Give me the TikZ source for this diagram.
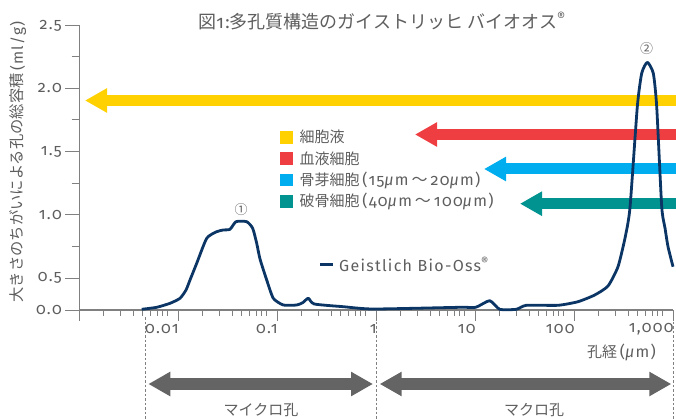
\documentclass[tikz,border=0pt]{standalone}
\usepackage{fontspec}
\setmainfont{Fira Sans}[Numbers=OldStyle, LetterSpace=8]
\newfontfamily\jpfont{Noto Sans CJK JP}
\usepackage{tikz}
\usetikzlibrary{arrows.meta}
\definecolor{txtgray}{HTML}{5E5E5E}
\definecolor{axisgray}{HTML}{808080}
\definecolor{spangray}{HTML}{646464}
\definecolor{navy}{HTML}{0B3565}
\definecolor{cellyellow}{HTML}{FFD100}
\definecolor{cellred}{HTML}{EF3E42}
\definecolor{cellblue}{HTML}{00AEEF}
\definecolor{cellteal}{HTML}{009390}
\tikzset{%
    lbl/.style={text=txtgray, inner sep=0pt}
}
\newcommand{\lat}[1]{{\fontsize{16}{16}\selectfont #1}}
\newcommand{\wave}{\hspace{3pt}{\jpfont ～}\hspace{3pt}}

\begin{document}
\begin{tikzpicture}[
        x=1pt, y=-1pt,
        axis/.style={draw=axisgray, line width=1.1pt},
        tck/.style={draw=axisgray, line width=1pt},
        band/.style={line width=11pt, -{Triangle[length=22pt,width=23pt]}},
        span/.style={draw=spangray, line width=11.5pt, {Triangle[length=22pt,width=23pt]}-{Triangle[length=22pt,width=23pt]}},
        guide/.style={draw=axisgray, line width=0.8pt, dash pattern=on 2.5pt off 2pt},
        curve/.style={draw=navy, line width=2.8pt, line join=round},
        swatch/.style={minimum width=13pt, minimum height=12.5pt, inner sep=0pt},
        tiny/.style={font=\fontsize{16}{16}\selectfont},
        small/.style={font=\fontsize{15}{15}\selectfont}
        ]
        \useasboundingbox (0,0) rectangle (676,419);

        % title and axis titles
        \node[lbl, font=\fontsize{18}{18}\selectfont] (title) at (382,21)
            {{\jpfont 図}1:{\jpfont 多孔質構造のガイストリッヒ バイオオス}\textsuperscript{®}};
        \node[lbl, rotate=90, font=\fontsize{15.3}{15.3}\selectfont] (ytitle) at (18,162)
            {{\jpfont 大きさのちがいによる孔の総容積}\,(ml/g)};
        \node[lbl, anchor=east, small] (xtitle) at (656,352)
            {{\jpfont 孔経}\lat{\,(\textit{μ}m)}};

        % colour bands
        \coordinate (ya) at (676,100.5);  \coordinate (yb) at (85,100.5);
        \coordinate (ra) at (676,134.5);  \coordinate (rb) at (415,134.5);
        \coordinate (ba) at (676,169);    \coordinate (bb) at (484,169);
        \coordinate (ta) at (676,203.7);  \coordinate (tb) at (520,203.7);
        \draw[band, draw=cellyellow] (ya) -- (yb);
        \draw[band, draw=cellred] (ra) -- (rb);
        \draw[band, draw=cellblue] (ba) -- (bb);
        \draw[band, draw=cellteal] (ta) -- (tb);

        % axes
        \coordinate (ytop) at (79.3,25.5);
        \coordinate (o) at (79.3,310);
        \coordinate (xend) at (673.3,310);
        \draw[axis] (ytop) -- (o) -- (xend);
        \foreach \v/\y [count=\i] in {0.0/310, 0.5/278.3, 1.0/215, 1.5/151.7, 2.0/88.4, 2.5/25.5} {
            \draw[tck] (65,\y) -- (79.3,\y);
            \node[lbl, anchor=east, tiny] (yl\i) at (62,\y) {\v};
        }
        \foreach \y in {57,120,183.3,246.7}
            \draw[tck] (71.7,\y) -- (79.3,\y);
        \foreach \d in {0,...,6}
            \draw[tck] ({79.3+99*\d},310) -- ++(0,10.5);
        \foreach \d in {0,...,5}
            \foreach \m in {2,...,9}
                \draw[tck] ({73.5+99*(\d+log10(\m))},310) -- ++(0,6);
        \foreach \d/\t [count=\i] in {1/0.01, 2/0.1, 3/1, 4/10, 5/100, 6/{1,000}}
            \node[lbl, anchor=east, tiny] (xl\i) at ({79.3+99*\d+0.5},329) {\t};

        % micro / macro ranges
        \coordinate (g1a) at (145.3,317);  \coordinate (g1b) at (145.3,419);
        \coordinate (g2a) at (376.3,317);  \coordinate (g2b) at (376.3,419);
        \coordinate (g3a) at (673.3,317);  \coordinate (g3b) at (673.3,419);
        \draw[guide] (g1a) -- (g1b);
        \draw[guide] (g2a) -- (g2b);
        \draw[guide] (g3a) -- (g3b);
        \coordinate (ma) at (148.3,384);  \coordinate (mb) at (373,384);
        \coordinate (Ma) at (379.7,384);  \coordinate (Mb) at (671.3,384);
        \draw[span] (ma) -- (mb);
        \draw[span] (Ma) -- (Mb);
        \node[lbl, small] (micro) at (261,410) {\jpfont マイクロ孔};
        \node[lbl, small] (macro) at (534,410) {\jpfont マクロ孔};

        % legend
        \node[swatch, fill=cellyellow] (s1) at (286.7,137.3) {};
        \node[swatch, fill=cellred] (s2) at (286.7,158.5) {};
        \node[swatch, fill=cellblue] (s3) at (286.7,180) {};
        \node[swatch, fill=cellteal] (s4) at (286.7,201.7) {};
        \node[lbl, anchor=west, small] (t1) at (299.5,137.3) {\jpfont 細胞液};
        \node[lbl, anchor=west, small] (t2) at (299.5,158.5) {\jpfont 血液細胞};
        \node[lbl, anchor=west, small] (t3) at (299.5,180)
            {{\jpfont 骨芽細胞}\lat{\,(15\textit{μ}m\wave 20\textit{μ}m)}};
        \node[lbl, anchor=west, small] (t4) at (299.5,201.7)
            {{\jpfont 破骨細胞}\lat{\,(40\textit{μ}m\wave 100\textit{μ}m)}};
        \coordinate (la) at (320,264.3);  \coordinate (lb) at (333,264.3);
        \draw[curve] (la) -- (lb);
        \node[lbl, anchor=west, font=\fontsize{16}{16}\selectfont] (gl) at (339,264.3)
            {Geistlich Bio-Oss\textsuperscript{®}};

        % pore volume curve
        \draw[curve] plot[smooth, tension=0.35] coordinates {
            (141.7,309.3) (156.7,307.3) (170,303.3) (180,298.3) (186,290)
            (190,280) (196.7,263.3) (206.7,238.3) (216.7,231.7) (223.3,230)
            (230,229.3) (236,221.7) (246.7,221.7) (252.7,228.3) (256.7,243.3)
            (260,259) (266.7,280) (273.3,298.3) (283.3,305) (296.7,305)
            (302.7,302.7) (308.3,298.3) (314.3,304) (343.3,306.7) (373.3,309)
            (460,307.3) (475.7,307.3) (489.7,300.7) (499.7,309.3) (516.3,309.3)
            (526.3,305.3) (558,305.3) (578,301.7) (594.7,295) (608,286)
            (618,266.7) (625.3,236.7) (630,207.5) (637.3,106.7) (641.7,73.3)
            (647.3,62.3) (653.3,73.3) (656.7,106.7) (661.7,206.7) (665,228)
            (668,246.7) (673,266.7)};
        \node[lbl, font=\jpfont\fontsize{13}{13}\selectfont] (p1) at (241,209.3) {①};
        \node[lbl, font=\jpfont\fontsize{13}{13}\selectfont] (p2) at (646.7,48.3) {②};
    \end{tikzpicture}
\end{document}
